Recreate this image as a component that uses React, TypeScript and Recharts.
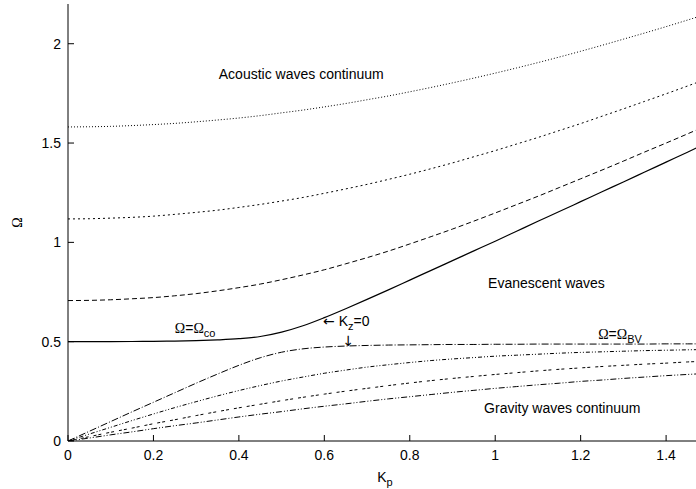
import React from "react";
import { Line, LineChart, ReferenceDot, XAxis, YAxis } from "recharts";

// horizontal wavenumber K_p
const kp = [
  0, 0.05, 0.1, 0.15, 0.2, 0.25, 0.3, 0.35, 0.4, 0.45, 0.5, 0.55, 0.6, 0.65, 0.7, 0.75,
  0.8, 0.85, 0.9, 0.95, 1.0, 1.05, 1.1, 1.15, 1.2, 1.25, 1.3, 1.35, 1.4, 1.45, 1.5,
];

// acoustic branch, Kz = 0, 0.5, 1, 1.5
const acoustic0 = [
  0.5, 0.5, 0.5, 0.501, 0.502, 0.503, 0.505, 0.509, 0.515, 0.526, 0.548, 0.58, 0.621, 0.666, 0.713, 0.761,
  0.81, 0.859, 0.908, 0.957, 1.006, 1.056, 1.106, 1.155, 1.205, 1.255, 1.304, 1.354, 1.404, 1.454, 1.504,
];
const acoustic1 = [
  0.707, 0.708, 0.711, 0.716, 0.722, 0.731, 0.742, 0.756, 0.772, 0.79, 0.812, 0.836, 0.862, 0.892, 0.923, 0.956,
  0.992, 1.029, 1.067, 1.107, 1.148, 1.19, 1.232, 1.276, 1.32, 1.364, 1.409, 1.455, 1.5, 1.546, 1.593,
];
const acoustic2 = [
  1.118, 1.119, 1.122, 1.126, 1.132, 1.141, 1.151, 1.162, 1.176, 1.191, 1.208, 1.226, 1.247, 1.269, 1.292, 1.317,
  1.343, 1.371, 1.4, 1.431, 1.462, 1.495, 1.528, 1.563, 1.598, 1.635, 1.672, 1.71, 1.748, 1.787, 1.827,
];
const acoustic3 = [
  1.581, 1.582, 1.584, 1.588, 1.593, 1.599, 1.607, 1.616, 1.626, 1.638, 1.652, 1.666, 1.682, 1.699, 1.718, 1.737,
  1.758, 1.78, 1.803, 1.827, 1.852, 1.878, 1.905, 1.933, 1.962, 1.992, 2.023, 2.054, 2.086, 2.119, 2.153,
];

// gravity branch, Kz = 0, 0.5, 1, 1.5
const gravity0 = [
  0, 0.049, 0.098, 0.147, 0.195, 0.243, 0.291, 0.337, 0.381, 0.419, 0.447, 0.464, 0.473, 0.478, 0.481, 0.483,
  0.484, 0.485, 0.486, 0.486, 0.487, 0.487, 0.488, 0.488, 0.488, 0.488, 0.488, 0.488, 0.489, 0.489, 0.489,
];
const gravity1 = [
  0, 0.035, 0.069, 0.103, 0.136, 0.168, 0.198, 0.227, 0.254, 0.279, 0.302, 0.322, 0.341, 0.357, 0.372, 0.384,
  0.395, 0.405, 0.413, 0.42, 0.427, 0.432, 0.437, 0.442, 0.446, 0.449, 0.452, 0.455, 0.457, 0.459, 0.461,
];
const gravity2 = [
  0, 0.022, 0.044, 0.065, 0.087, 0.107, 0.128, 0.148, 0.167, 0.185, 0.203, 0.22, 0.236, 0.251, 0.265, 0.279,
  0.292, 0.304, 0.315, 0.325, 0.335, 0.344, 0.353, 0.361, 0.368, 0.375, 0.381, 0.387, 0.392, 0.398, 0.402,
];
const gravity3 = [
  0, 0.015, 0.031, 0.046, 0.062, 0.077, 0.091, 0.106, 0.121, 0.135, 0.148, 0.162, 0.175, 0.187, 0.2, 0.212,
  0.223, 0.234, 0.245, 0.255, 0.265, 0.274, 0.283, 0.291, 0.3, 0.307, 0.315, 0.322, 0.329, 0.335, 0.341,
];

const xTicks = [0, 0.2, 0.4, 0.6, 0.8, 1, 1.2, 1.4];
const yTicks = [0, 0.5, 1, 1.5, 2];

const data = kp.map((k, i) => ({
  k,
  a0: acoustic0[i],
  a1: acoustic1[i],
  a2: acoustic2[i],
  a3: acoustic3[i],
  g0: gravity0[i],
  g1: gravity1[i],
  g2: gravity2[i],
  g3: gravity3[i],
}));

const SERIES = [
  { key: "a0", dash: undefined, width: 1.2 },
  { key: "a1", dash: "5 3", width: 1 },
  { key: "a2", dash: "2 3", width: 1 },
  { key: "a3", dash: "1 2", width: 1 },
  { key: "g0", dash: "7 2 1 2", width: 1 },
  { key: "g1", dash: "4 2 1 2 1 2", width: 1 },
  { key: "g2", dash: "3 2 3 5", width: 1 },
  { key: "g3", dash: "6 2 1 2 1 2", width: 1 },
];

const FONT = "'Liberation Sans', Arial, sans-serif";
const GREEK = "'Liberation Serif', 'Times New Roman', serif";
const ARROW = "'DejaVu Sans', sans-serif";

const fmt = (v: number) => String(v);

const BottomTick = (props: any) => {
  const { x, y, payload } = props;
  return (
    <g>
      <line x1={x} y1={y} x2={x} y2={y - 6} stroke="#000" />
      <text x={x} y={y + 19} textAnchor="middle" fontFamily={FONT} fontSize={14} fill="#000">
        {fmt(payload.value)}
      </text>
    </g>
  );
};

const TopTick = (props: any) => {
  const { x, y } = props;
  return <line x1={x} y1={y} x2={x} y2={y + 6} stroke="#000" />;
};

const LeftTick = (props: any) => {
  const { x, y, payload } = props;
  return (
    <g>
      <line x1={x} y1={y} x2={x + 6} y2={y} stroke="#000" />
      <text x={x - 7} y={y + 5} textAnchor="end" fontFamily={FONT} fontSize={14} fill="#000">
        {fmt(payload.value)}
      </text>
    </g>
  );
};

type Part = { t: string; sub?: boolean; greek?: boolean; arrow?: boolean };

const note = (parts: Part[], anchor: "start" | "middle" = "start") => (props: any) => {
  const { viewBox } = props;
  let shift = 0;
  return (
    <text x={viewBox.x} y={viewBox.y} textAnchor={anchor} fontFamily={FONT} fontSize={14} fill="#000">
      {parts.map((p, i) => {
        const target = p.sub ? 4 : 0;
        const dy = target - shift;
        shift = target;
        return (
          <tspan
            key={i}
            dy={dy}
            fontSize={p.sub ? 11 : 14}
            fontFamily={p.greek ? GREEK : p.arrow ? ARROW : FONT}
          >
            {p.t}
          </tspan>
        );
      })}
    </text>
  );
};

const NOTES: { x: number; y: number; parts: Part[]; anchor?: "start" | "middle" }[] = [
  { x: 0.546, y: 1.82, parts: [{ t: "Acoustic waves continuum" }], anchor: "middle" },
  { x: 1.12, y: 0.77, parts: [{ t: "Evanescent waves" }], anchor: "middle" },
  { x: 1.157, y: 0.14, parts: [{ t: "Gravity waves continuum" }], anchor: "middle" },
  {
    x: 0.25,
    y: 0.546,
    parts: [{ t: "Ω", greek: true }, { t: "=" }, { t: "Ω", greek: true }, { t: "co", sub: true }],
  },
  {
    x: 1.241,
    y: 0.516,
    parts: [{ t: "Ω", greek: true }, { t: "=" }, { t: "Ω", greek: true }, { t: "BV", sub: true }],
  },
  {
    x: 0.597,
    y: 0.581,
    parts: [{ t: "←", arrow: true }, { t: " K" }, { t: "z", sub: true }, { t: "=0" }],
  },
  { x: 0.656, y: 0.478, parts: [{ t: "↓", arrow: true }], anchor: "middle" },
];

const KpLabel = (props: any) => {
  const { viewBox } = props;
  const cx = viewBox.x + viewBox.width / 2 + 3;
  return (
    <text x={cx} y={viewBox.y + 41} textAnchor="middle" fontFamily={FONT} fontSize={14} fill="#000">
      <tspan>K</tspan>
      <tspan dy={4} fontSize={11}>p</tspan>
    </text>
  );
};

const OmegaLabel = (props: any) => {
  const { viewBox } = props;
  const cx = viewBox.x + 19;
  const cy = viewBox.y + viewBox.height / 2;
  return (
    <text
      x={cx}
      y={cy}
      textAnchor="middle"
      dominantBaseline="middle"
      transform={`rotate(-90 ${cx} ${cy})`}
      fontFamily={GREEK}
      fontSize={14}
      fill="#000"
    >
      Ω
    </text>
  );
};

export default function App() {
  return (
    <div style={{ position: "absolute", left: 0, top: 0, background: "#fff" }}>
      <LineChart
        width={696}
        height={489}
        data={data}
        margin={{ top: 4, right: 0, bottom: 0, left: 0 }}
      >
        <XAxis
          dataKey="k"
          type="number"
          domain={[0, 1.47]}
          allowDataOverflow
          ticks={xTicks}
          interval={0}
          height={48}
          tickSize={0}
          tickMargin={0}
          tickLine={false}
          axisLine={{ stroke: "#000" }}
          tick={<BottomTick />}
          label={{ content: <KpLabel /> }}
        />
        <XAxis
          xAxisId="top"
          orientation="top"
          dataKey="k"
          type="number"
          domain={[0, 1.47]}
          allowDataOverflow
          ticks={xTicks}
          interval={0}
          height={0}
          tickSize={0}
          tickMargin={0}
          tickLine={false}
          axisLine={{ stroke: "#000" }}
          tick={<TopTick />}
        />
        <YAxis
          type="number"
          domain={[0, 2.2]}
          allowDataOverflow
          ticks={yTicks}
          interval={0}
          width={68}
          tickSize={0}
          tickMargin={0}
          tickLine={false}
          axisLine={{ stroke: "#000" }}
          tick={<LeftTick />}
          label={{ content: <OmegaLabel /> }}
        />
        {SERIES.map((s) => (
          <Line
            key={s.key}
            dataKey={s.key}
            type="monotone"
            stroke="#000"
            strokeWidth={s.width}
            strokeDasharray={s.dash}
            dot={false}
            activeDot={false}
            isAnimationActive={false}
          />
        ))}
        {NOTES.map((n, i) => (
          <ReferenceDot
            key={i}
            x={n.x}
            y={n.y}
            r={0}
            fill="none"
            stroke="none"
            label={{ content: note(n.parts, n.anchor) }}
          />
        ))}
      </LineChart>
    </div>
  );
}
